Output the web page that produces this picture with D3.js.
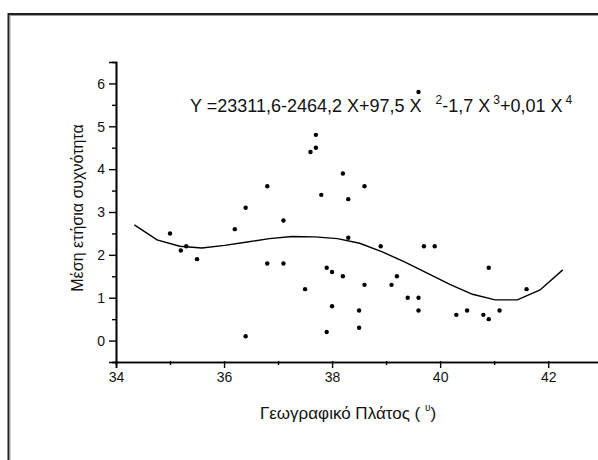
<!DOCTYPE html>
<html>
<head>
<meta charset="utf-8">
<script src="https://cdn.jsdelivr.net/npm/d3@7"></script>
<style>
  body { margin: 0; background: #fff; }
  svg { display: block; font-family: Arial, "Liberation Sans", sans-serif; }
</style>
</head>
<body>
<div class="box"></div>
<script>
// observed points (latitude, mean yearly frequency)
const lat  = [35.0, 35.2, 35.3, 35.5, 36.2, 36.4, 36.4, 36.8, 36.8, 37.1, 37.1, 37.5, 37.6, 37.7, 37.7,
              37.8, 37.9, 37.9, 38.0, 38.0, 38.2, 38.2, 38.3, 38.3, 38.5, 38.5, 38.6, 38.6, 38.9, 39.1,
              39.2, 39.4, 39.6, 39.6, 39.6, 39.7, 39.9, 40.3, 40.5, 40.8, 40.9, 40.9, 41.1, 41.6];
const freq = [2.5, 2.1, 2.2, 1.9, 2.6, 3.1, 0.1, 3.6, 1.8, 2.8, 1.8, 1.2, 4.4, 4.8, 4.5,
              3.4, 1.7, 0.2, 1.6, 0.8, 3.9, 1.5, 3.3, 2.4, 0.7, 0.3, 3.6, 1.3, 2.2, 1.3,
              1.5, 1.0, 5.8, 1.0, 0.7, 2.2, 2.2, 0.6, 0.7, 0.6, 1.7, 0.5, 0.7, 1.2];

// polynomial fit line
const fitX = [34.34, 34.76, 35.18, 35.59, 36.01, 36.43, 36.84, 37.26, 37.68, 38.10,
              38.51, 38.93, 39.35, 39.77, 40.18, 40.60, 41.02, 41.43, 41.85, 42.27];
const fitY = [2.70, 2.35, 2.20, 2.16, 2.22, 2.30, 2.38, 2.43, 2.42, 2.38,
              2.27, 2.07, 1.83, 1.57, 1.31, 1.08, 0.95, 0.95, 1.18, 1.65];

const xTicks = [34, 36, 38, 40, 42];
const xMinor = [35, 37, 39, 41, 43];
const yTicks = [0, 1, 2, 3, 4, 5, 6];
const yMinor = [-0.5, 0.5, 1.5, 2.5, 3.5, 4.5, 5.5];

const svg = d3.select('.box')
              .append('svg')
              .attr('width', 598)
              .attr('height', 460);

// outer frame (runs off the right / bottom like the original)
svg.append('rect')
   .attr('x', 8.5).attr('y', 14)
   .attr('width', 700).attr('height', 600)
   .attr('fill', 'none')
   .attr('stroke', '#222')
   .attr('stroke-width', 2);
svg.append('rect')
   .attr('x', 10).attr('y', 15.5)
   .attr('width', 700).attr('height', 600)
   .attr('fill', 'none')
   .attr('stroke', '#999')
   .attr('stroke-width', 1);

const x = d3.scaleLinear().domain([34, 43.7]).range([116, 640]);
const y = d3.scaleLinear().domain([-0.5, 6.5]).range([362, 62]);

// axes
const gx = svg.append('g').attr('transform', 'translate(0, 362)');
gx.call(d3.axisBottom(x).tickValues(xTicks).tickSize(6).tickPadding(4).tickFormat(d3.format('d')));
gx.append('g').call(d3.axisBottom(x).tickValues(xMinor).tickSize(3).tickFormat(''));
gx.selectAll('.tick line').attr('y1', -1);

const gy = svg.append('g').attr('transform', 'translate(116, 0)');
gy.call(d3.axisLeft(y).tickValues(yTicks).tickSize(7).tickPadding(4).tickFormat(d3.format('d')));
gy.append('g').call(d3.axisLeft(y).tickValues(yMinor).tickSize(4).tickFormat(''));

svg.selectAll('.domain').attr('stroke', '#000').attr('stroke-width', 1.6);
svg.selectAll('.tick line').attr('stroke', '#000').attr('stroke-width', 1.4);
svg.selectAll('.tick text')
   .attr('font-family', 'Arial, "Liberation Sans", sans-serif')
   .attr('font-size', 14)
   .attr('fill', '#111');
gy.selectAll('.tick text').attr('dy', '0.34em');

// fit line
const line = d3.line()
               .x((d, i) => x(fitX[i]))
               .y(d => y(d));
svg.append('path')
   .attr('d', line(fitY))
   .attr('fill', 'none')
   .attr('stroke', '#000')
   .attr('stroke-width', 1.4);

// points
svg.append('g')
   .selectAll('circle')
   .data(freq)
   .enter()
   .append('circle')
   .attr('cx', (d, i) => x(lat[i]))
   .attr('cy', d => y(d))
   .attr('r', 2.2)
   .attr('fill', '#000');

// equation
const eq = svg.append('text')
              .attr('x', 190).attr('y', 112)
              .attr('font-size', 18)
              .attr('fill', '#111');
eq.append('tspan').text('Y =23311,6-2464,2 X+97,5 X');
eq.append('tspan').attr('font-size', 12).attr('dx', 14).attr('dy', -8).text('2');
eq.append('tspan').attr('dy', 8).text('-1,7 X');
eq.append('tspan').attr('font-size', 12).attr('dx', 3).attr('dy', -8).text('3');
eq.append('tspan').attr('dy', 8).text('+0,01 X');
eq.append('tspan').attr('font-size', 12).attr('dx', 3).attr('dy', -8).text('4');

// axis titles
const xl = svg.append('text')
              .attr('x', 348).attr('y', 419)
              .attr('text-anchor', 'middle')
              .attr('font-size', 17)
              .attr('fill', '#111');
xl.append('tspan').text('Γεωγραφικό Πλάτος ( ');
xl.append('tspan').attr('font-size', 10).attr('dy', -8).text('υ');
xl.append('tspan').attr('dy', 8).text(')');

svg.append('text')
   .attr('transform', 'translate(83, 208) rotate(-90)')
   .attr('text-anchor', 'middle')
   .attr('font-size', 16)
   .attr('fill', '#111')
   .text('Μέση ετήσια συχνότητα');
</script>
</body>
</html>
